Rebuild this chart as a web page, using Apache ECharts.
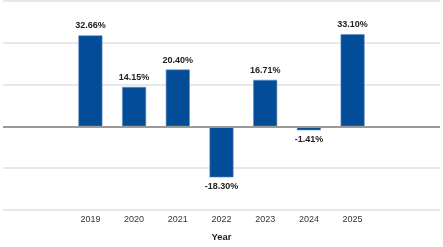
<!DOCTYPE html>
<html>
<head>
<meta charset="utf-8">
<script src="https://cdn.jsdelivr.net/npm/echarts@6/dist/echarts.min.js"></script>
<style>
  html, body { margin: 0; padding: 0; background: #fff; }
  #chart { width: 443px; height: 247px; }
</style>
</head>
<body>
<div id="chart"></div>
<script>
// annual returns (%)
var years = [2019, 2020, 2021, 2022, 2023, 2024, 2025]
var returns = [32.66, 14.15, 20.40, -18.30, 16.71, -1.41, 33.10]
var yMin = -30
var yMax = 45
var yStep = 15

var font = '"Liberation Sans Narrow", "Arial Narrow", "Liberation Sans", Arial, sans-serif'

var chart = echarts.init(document.getElementById('chart'), null, { renderer: 'canvas' })

var option = {
  animation: false,
  backgroundColor: '#fff',
  grid: {
    left: 0,
    right: 0,
    top: 1,
    bottom: 37
  },
  xAxis: {
    type: 'value',
    min: years[0] - 2,
    max: years[years.length - 1] + 2,
    interval: 1,
    name: 'Year',
    nameLocation: 'middle',
    nameGap: 22,
    nameTextStyle: {
      fontFamily: font,
      fontSize: 9.5,
      fontWeight: 'bold',
      color: '#222'
    },
    axisLine: { show: false, onZero: false },
    axisTick: { show: false },
    splitLine: { show: false },
    axisLabel: {
      margin: 5,
      fontFamily: font,
      fontSize: 9,
      color: '#333',
      formatter: function (v) {
        return years.indexOf(v) >= 0 ? String(v) : ''
      }
    }
  },
  yAxis: {
    type: 'value',
    min: yMin,
    max: yMax,
    interval: yStep,
    axisLine: { show: false },
    axisTick: { show: false },
    axisLabel: { show: false },
    splitLine: {
      lineStyle: { color: '#e0e0e0', width: 1.5 }
    }
  },
  series: [
    {
      type: 'bar',
      barWidth: 24,
      data: years.map(function (y, i) {
        return {
          value: [y, returns[i]],
          label: { position: returns[i] < 0 ? 'bottom' : 'top' }
        }
      }),
      itemStyle: {
        color: '#034c97',
        borderColor: '#5f8fc8',
        borderWidth: 0.6
      },
      label: {
        show: true,
        distance: 5,
        fontFamily: font,
        fontSize: 9,
        fontWeight: 'bold',
        color: '#222',
        formatter: function (p) {
          return p.value[1].toFixed(2) + '%'
        }
      },
      markLine: {
        silent: true,
        symbol: 'none',
        label: { show: false },
        lineStyle: { color: '#9a9a9a', width: 2, type: 'solid' },
        data: [{ yAxis: 0 }]
      }
    }
  ]
}

chart.setOption(option)
</script>
</body>
</html>
